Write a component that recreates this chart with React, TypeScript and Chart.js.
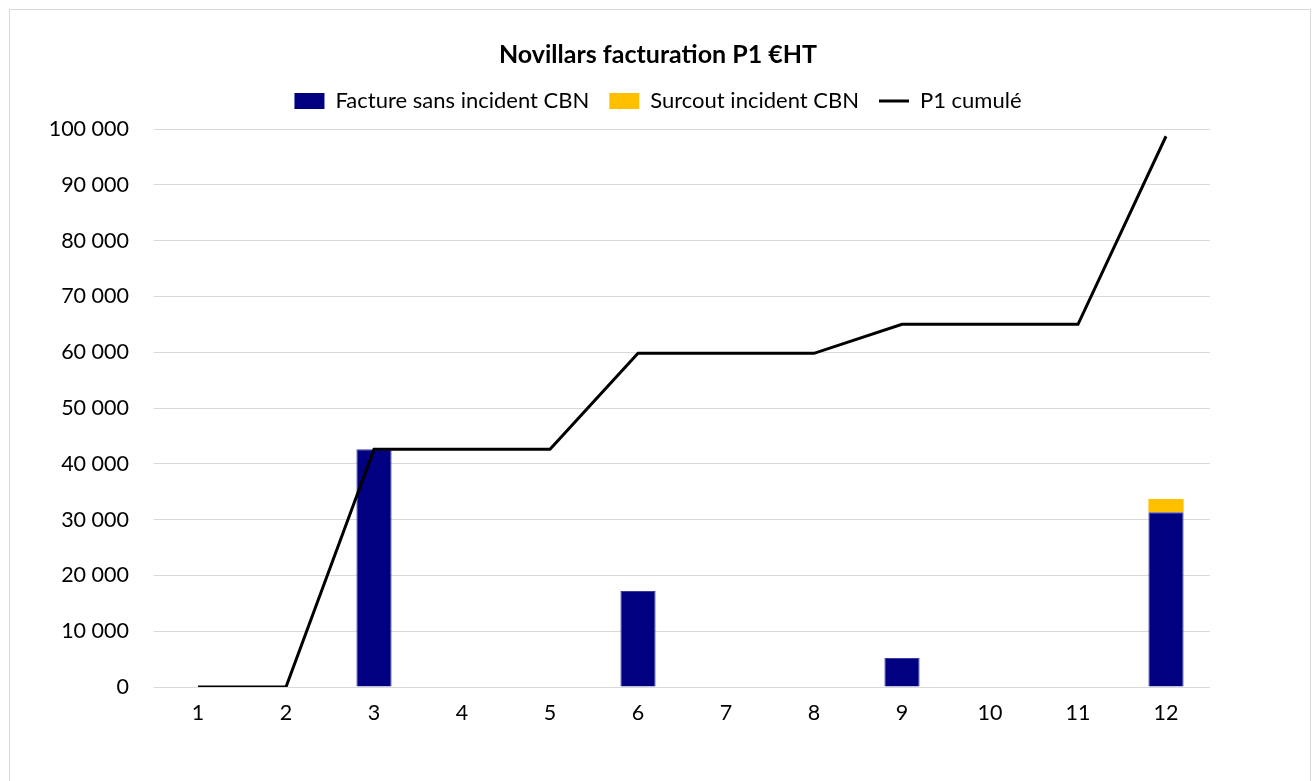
import React, { useEffect, useRef } from "react";
import { Chart, registerables, layouts } from "chart.js";

Chart.register(...registerables);

const TITLE = "Novillars facturation P1 €HT";
const months = ["1", "2", "3", "4", "5", "6", "7", "8", "9", "10", "11", "12"];
const factureSansIncident = [null, null, 42600, null, null, 17200, null, null, 5200, null, null, 31300];
const surcoutIncident = [null, null, null, null, null, null, null, null, null, null, null, 2400];
const p1Cumule = [0, 0, 42600, 42600, 42600, 59800, 59800, 59800, 65000, 65000, 65000, 98700];

const FONT = "Lato, 'Open Sans', sans-serif";

const fmt = (v: number) => {
  const s = Math.round(v).toString();
  return s.replace(/\B(?=(\d{3})+(?!\d))/g, " ");
};

const makeBox = (position: string, size: number): any => ({
  position,
  weight: 1,
  fullSize: position === "top",
  options: {},
  width: 0,
  height: 0,
  top: 0,
  left: 0,
  right: 0,
  bottom: 0,
  isHorizontal() {
    return position === "top" || position === "bottom";
  },
  update(maxWidth: number, maxHeight: number) {
    if (this.isHorizontal()) {
      this.width = maxWidth;
      this.height = size;
    } else {
      this.width = size;
      this.height = maxHeight;
    }
  },
  draw() {},
});

const spacerPlugin = {
  id: "layoutSpacers",
  beforeInit(chart: any) {
    layouts.addBox(chart, makeBox("top", 7));
    layouts.addBox(chart, makeBox("right", 106));
  },
};

export default function App() {
  const ref = useRef<HTMLCanvasElement | null>(null);

  useEffect(() => {
    if (!ref.current) return;
    const chart = new Chart(ref.current, {
      type: "bar",
      data: {
        labels: months,
        datasets: [
          {
            type: "bar",
            label: "Facture sans incident CBN",
            data: factureSansIncident as any,
            backgroundColor: "#000080",
            borderColor: "#3a3aa6",
            borderWidth: 1,
            stack: "bars",
            order: 2,
            barPercentage: 0.4,
            categoryPercentage: 1,
          },
          {
            type: "bar",
            label: "Surcout incident CBN",
            data: surcoutIncident as any,
            backgroundColor: "#FFC000",
            borderWidth: 0,
            stack: "bars",
            order: 2,
            barPercentage: 0.4,
            categoryPercentage: 1,
          },
          {
            type: "line",
            label: "P1 cumulé",
            data: p1Cumule,
            borderColor: "#000000",
            backgroundColor: "#000000",
            borderWidth: 3,
            pointRadius: 0,
            tension: 0,
            stack: "line",
            order: 0,
          } as any,
        ],
      },
      plugins: [spacerPlugin as any],
      options: {
        responsive: false,
        animation: false,
        layout: { padding: { left: 0, right: 0, top: 0, bottom: 0 } },
        plugins: {
          title: {
            display: true,
            text: TITLE,
            color: "#000",
            font: { family: FONT, size: 25, weight: "bold", lineHeight: 1.2 },
            padding: { top: 40, bottom: 0 },
          },
          legend: {
            display: true,
            position: "top",
            labels: {
              color: "#000",
              font: { family: FONT, size: 22 },
              usePointStyle: true,
              pointStyleWidth: 30,
              boxHeight: 16,
              padding: 20,
              sort: (a: any, b: any) => a.datasetIndex - b.datasetIndex,
              generateLabels: (c: any) => {
                const items = Chart.defaults.plugins.legend.labels.generateLabels(c);
                return items.map((it: any) => {
                  if (it.datasetIndex === 2) {
                    it.pointStyle = "line";
                    it.lineWidth = 3;
                    it.strokeStyle = "#000";
                  } else {
                    it.pointStyle = "rect";
                    it.lineWidth = 0;
                  }
                  return it;
                });
              },
            },
          },
          tooltip: { enabled: false },
        },
        scales: {
          x: {
            stacked: true,
            grid: { display: false, drawTicks: false },
            border: { display: false },
            ticks: { color: "#000", font: { family: FONT, size: 21.5 }, padding: 13 },
            afterFit: (s: any) => {
              s.height = 94;
            },
          },
          y: {
            stacked: true,
            min: 0,
            max: 100000,
            grid: { color: "#d9d9d9", drawTicks: false, lineWidth: 1 },
            border: { display: false },
            ticks: {
              stepSize: 10000,
              color: "#000",
              font: { family: FONT, size: 21.5 },
              padding: 25,
              callback: (v: any) => fmt(Number(v)),
            },
            afterFit: (s: any) => {
              s.width = 154;
            },
          },
        },
      },
    });
    return () => chart.destroy();
  }, []);

  return (
    <div style={{ position: "fixed", left: 0, top: 0, width: 1316, height: 781, background: "#fff" }}>
      <div
        style={{
          position: "absolute",
          left: 9,
          top: 9,
          width: 1302,
          height: 800,
          border: "1px solid #d9d9d9",
          boxSizing: "border-box",
        }}
      />
      <canvas ref={ref} width={1316} height={781} style={{ position: "absolute", left: 0, top: 0 }} />
    </div>
  );
}
